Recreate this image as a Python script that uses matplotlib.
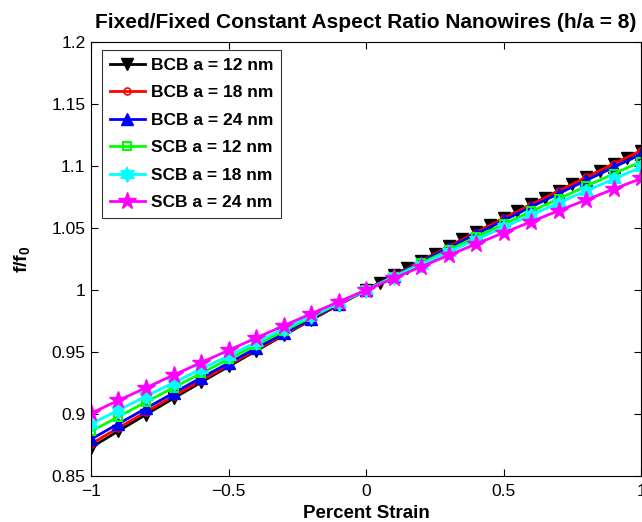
import numpy as np
import matplotlib
matplotlib.use("Agg")
import matplotlib.pyplot as plt
from matplotlib.ticker import FixedLocator, FuncFormatter

plt.rcParams['font.family'] = ['Liberation Sans', 'DejaVu Sans']
plt.rcParams['mathtext.fontset'] = 'custom'
plt.rcParams['mathtext.rm'] = 'Liberation Sans'
plt.rcParams['mathtext.bf'] = 'Liberation Sans:bold'
plt.rcParams['axes.unicode_minus'] = True

# ---- data ----
strain_coarse = [-1.0, -0.9, -0.8, -0.7, -0.6, -0.5, -0.4, -0.3, -0.2, -0.1,
                 0.0, 0.1, 0.2, 0.3, 0.4, 0.5, 0.6, 0.7, 0.8, 0.9, 1.0]
strain_bcb12 = [-1.0, -0.9, -0.8, -0.7, -0.6, -0.5, -0.4, -0.3, -0.2, -0.1,
                0.0, 0.05, 0.1, 0.15, 0.2, 0.25, 0.3, 0.35, 0.4, 0.45, 0.5,
                0.55, 0.6, 0.65, 0.7, 0.75, 0.8, 0.85, 0.9, 0.95, 1.0]

bcb_12 = [0.873, 0.8864, 0.8996, 0.9127, 0.9256, 0.9384, 0.9510, 0.9635, 0.9758, 0.9880,
          1.0, 1.0060, 1.0119, 1.0178, 1.0236, 1.0294, 1.0352, 1.0409, 1.0466, 1.0523, 1.0579,
          1.0635, 1.0690, 1.0745, 1.0800, 1.0854, 1.0908, 1.0962, 1.1015, 1.1068, 1.1120]
bcb_18 = [0.876, 0.8889, 0.9017, 0.9144, 0.9270, 0.9395, 0.9518, 0.9640, 0.9761, 0.9881,
          1.0, 1.0118, 1.0234, 1.0350, 1.0464, 1.0577, 1.0689, 1.0799, 1.0909, 1.1018, 1.1125]
bcb_24 = [0.8797, 0.8922, 0.9046, 0.9170, 0.9292, 0.9411, 0.9531, 0.9650, 0.9768, 0.9885,
          1.0, 1.0114, 1.0228, 1.0340, 1.0451, 1.0561, 1.0670, 1.0778, 1.0884, 1.0990, 1.1095]
scb_12 = [0.886, 0.8979, 0.9097, 0.9213, 0.9328, 0.9443, 0.9557, 0.9669, 0.9780, 0.9891,
          1.0, 1.0108, 1.0216, 1.0322, 1.0427, 1.0531, 1.0634, 1.0736, 1.0837, 1.0937, 1.1036]
scb_18 = [0.892, 0.9032, 0.9143, 0.9253, 0.9363, 0.9471, 0.9579, 0.9686, 0.9791, 0.9896,
          1.0, 1.0103, 1.0205, 1.0306, 1.0407, 1.0506, 1.0605, 1.0703, 1.0799, 1.0895, 1.0990]
scb_24 = [0.9006, 0.9110, 0.9212, 0.9314, 0.9415, 0.9514, 0.9613, 0.9712, 0.9809, 0.9905,
          1.0, 1.0094, 1.0188, 1.0280, 1.0372, 1.0462, 1.0551, 1.0640, 1.0727, 1.0814, 1.0900]

labels = ['BCB a = 12 nm', 'BCB a = 18 nm', 'BCB a = 24 nm',
          'SCB a = 12 nm', 'SCB a = 18 nm', 'SCB a = 24 nm']
xticks = [-1, -0.5, 0, 0.5, 1]
yticks = [0.85, 0.9, 0.95, 1.0, 1.05, 1.1, 1.15, 1.2]

# hexagram marker (style)
ang = np.deg2rad(np.arange(12) * 30 + 90)
rad = np.where(np.arange(12) % 2 == 0, 1.0, 0.58)
hexagram = list(zip(rad * np.cos(ang), rad * np.sin(ang)))

fig = plt.figure(figsize=(6.42, 5.22), dpi=100)
ax = fig.add_axes([0.1417, 0.088, 0.857, 0.8315])

lw = 2.0
ax.plot(strain_bcb12, bcb_12, color='black', lw=lw, marker='v', ms=8, mfc='black', mec='black', label=labels[0])
ax.plot(strain_coarse, bcb_18, color='red', lw=lw, marker='o', ms=5, mfc='none', mec='red', mew=1.2, label=labels[1])
ax.plot(strain_coarse, bcb_24, color='blue', lw=lw, marker='^', ms=8, mfc='blue', mec='blue', label=labels[2])
ax.plot(strain_coarse, scb_12, color='#00ff00', lw=lw, marker='s', ms=6, mfc='none', mec='#00ff00', mew=1.5, label=labels[3])
ax.plot(strain_coarse, scb_18, color='cyan', lw=lw, marker=hexagram, ms=11, mfc='cyan', mec='cyan', label=labels[4])
ax.plot(strain_coarse, scb_24, color='magenta', lw=lw, marker='*', ms=13, mfc='magenta', mec='magenta', label=labels[5])

ax.set_xlim(-1, 1)
ax.set_ylim(0.85, 1.2)
ax.xaxis.set_major_locator(FixedLocator(xticks))
ax.yaxis.set_major_locator(FixedLocator(yticks))
fmt = FuncFormatter(lambda v, p: ('%g' % v).replace('-', '\u2212'))
ax.xaxis.set_major_formatter(fmt)
ax.yaxis.set_major_formatter(fmt)
ax.tick_params(direction='in', length=5, width=0.8, top=True, right=True, labelsize=12.5)
ax.tick_params(axis='x', pad=6)
ax.tick_params(axis='y', pad=4)
for s in ax.spines.values():
    s.set_linewidth(0.8)

ax.set_title('Fixed/Fixed Constant Aspect Ratio Nanowires (h/a = 8)', fontsize=15, fontweight='bold', pad=10)
ax.set_xlabel('Percent Strain', fontsize=13.5, fontweight='bold', labelpad=4)
ax.set_ylabel(r'$\mathbf{f/f_0}$', fontsize=14, labelpad=14)

leg = ax.legend(loc='upper left', bbox_to_anchor=(0.02, 0.982),
                prop={'weight': 'bold', 'size': 12.5}, frameon=True, fancybox=False,
                edgecolor='black', handlelength=2.0, handletextpad=0.35,
                labelspacing=0.71, borderpad=0.45, borderaxespad=0)
leg.get_frame().set_linewidth(0.8)

fig.savefig('out.png', dpi=100)
